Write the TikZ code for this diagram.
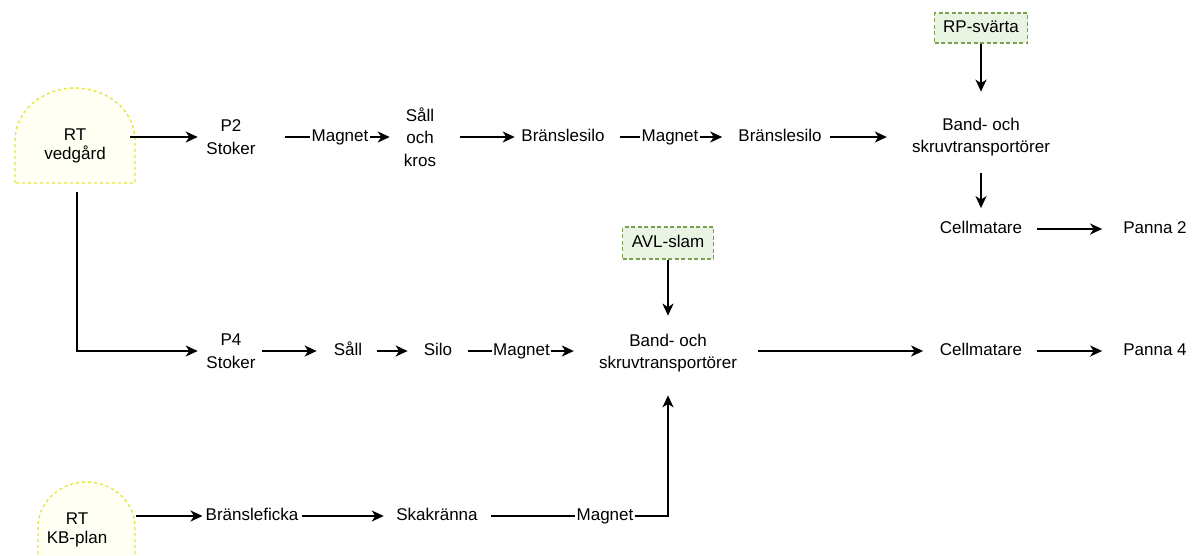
\documentclass[tikz,border=0pt]{standalone}
\usepackage{fontspec}
\setmainfont{Liberation Sans}
\usetikzlibrary{arrows.meta}
\definecolor{domeline}{HTML}{E4E44C}
\definecolor{domefill}{HTML}{FFFFF3}
\definecolor{boxline}{HTML}{78A050}
\definecolor{boxfill}{HTML}{E9F4E3}
\begin{document}
\begin{tikzpicture}[x=1pt,y=-1pt,
  lbl/.style={font=\fontsize{17}{22.5}\selectfont, align=center, inner sep=0pt},
  one/.style={font=\fontsize{17}{22.5}\selectfont, inner sep=0pt, text height=12.2pt, text depth=3.6pt},
  mag/.style={one, inner sep=1pt},
  rt/.style={font=\fontsize{17}{19.5}\selectfont, align=center, inner sep=0pt},
  arr/.style={line width=1.7pt, -{Stealth[length=12pt,width=11pt,inset=3.5pt]}},
  ln/.style={line width=1.7pt},
  src/.style={one, draw=boxline, dash pattern=on 4pt off 2.5pt, line width=1.3pt, fill=boxfill, inner sep=0pt},
  dome/.style={draw=domeline, dash pattern=on 3pt off 3pt, line width=1.4pt, fill=domefill}]
\useasboundingbox (0,0) rectangle (1197,555);
\fill[white] (0,0) rectangle (1197,555);

% source domes
\draw[dome] (15,183) -- (15,140) .. controls (15,111.3) and (41.9,88) .. (75,88)
  .. controls (108.1,88) and (135,111.3) .. (135,140) -- (135,183) -- cycle;
\draw[dome] (38,560) -- (38,527) .. controls (38,502.2) and (59.7,482) .. (86.5,482)
  .. controls (113.3,482) and (135,502.2) .. (135,527) -- (135,560);
\node[rt] (ved) at (75,146) {RT\\vedgård};
\node[rt] (kb) at (77,530) {RT\\KB-plan};
\coordinate (vedR) at (130,137);
\coordinate (vedB) at (77,192);
\coordinate (kbR) at (136,516);

% row 1
\node[lbl] (p2) at (231,137) {P2\\Stoker};
\node[mag] (m1) at (340,137) {Magnet};
\node[lbl] (sall) at (420,137) {Såll\\och\\kros};
\node[one] (bs1) at (563,137) {Bränslesilo};
\node[mag] (m2) at (670,137) {Magnet};
\node[one] (bs2) at (780,137) {Bränslesilo};
\node[lbl] (band1) at (981,137) {Band- och\\skruvtransportörer};
\node[src, minimum width=93pt, minimum height=30pt] (rp) at (981,28) {RP-svärta};
\node[one] (cm1) at (981,229) {Cellmatare};
\node[one] (pa2) at (1155,229) {Panna 2};

\draw[arr, shorten >=8.5pt] (vedR) -- (vedR -| p2.west);
\draw[ln, shorten <=29pt] (p2.east |- m1.west) -- (m1.west);
\draw[arr, shorten >=14pt] (m1.east) -- (m1.east -| sall.west);
\draw[arr, shorten <=24pt, shorten >=6.5pt] (sall.east |- bs1.west) -- (bs1.west);
\draw[ln, shorten <=15pt] (bs1.east) -- (m2.west);
\draw[arr, shorten >=16pt] (m2.east) -- (bs2.west);
\draw[arr, shorten <=8.5pt, shorten >=25pt] (bs2.east) -- (bs2.east -| band1.west);
\draw[arr, shorten >=26pt] (rp.south) -- (band1.north -| rp.south);
\draw[arr, shorten <=17pt, shorten >=12.8pt] (band1.south) -- (band1.south |- cm1.north);
\draw[arr, shorten <=14.6pt, shorten >=21pt] (cm1.east) -- (pa2.west);

% row 2
\node[lbl] (p4) at (231,351) {P4\\Stoker};
\node[one] (sall2) at (348,351) {Såll};
\node[one] (silo) at (438,351) {Silo};
\node[mag] (m3) at (521.5,351) {Magnet};
\node[lbl] (band2) at (668,353) {Band- och\\skruvtransportörer};
\node[src, minimum width=91pt, minimum height=32pt] (avl) at (668,243) {AVL-slam};
\node[one] (cm2) at (981,351) {Cellmatare};
\node[one] (pa4) at (1155,351) {Panna 4};

\draw[arr, shorten >=8.5pt] (vedB) -- (vedB |- p4.west) -- (p4.west);
\draw[arr, shorten <=6.5pt, shorten >=17pt] (p4.east |- sall2.west) -- (sall2.west);
\draw[arr, shorten <=15pt, shorten >=16pt] (sall2.east) -- (silo.west);
\draw[ln, shorten <=16pt] (silo.east) -- (m3.west);
\draw[arr, shorten >=25pt] (m3.east) -- (m3.east -| band2.west);
\draw[arr, shorten <=21pt, shorten >=16.6pt] (band2.east |- cm2.west) -- (cm2.west);
\draw[arr, shorten <=14.6pt, shorten >=21pt] (cm2.east) -- (pa4.west);
\draw[arr, shorten >=18pt] (avl.south) -- (band2.north -| avl.south);

% row 3
\node[one] (bf) at (252,516) {Bränsleficka};
\node[one] (sk) at (437,516) {Skakränna};
\node[mag] (m4) at (605,516) {Magnet};

\draw[arr, shorten >=3pt] (kbR) -- (kbR -| bf.west);
\draw[arr, shorten <=3pt, shorten >=12.4pt] (bf.east) -- (sk.west);
\draw[ln, shorten <=13.4pt] (sk.east) -- (m4.west);
\draw[arr, shorten >=23pt] (m4.east) -- (m4.east -| band2.south) -- (band2.south);
\end{tikzpicture}
\end{document}
